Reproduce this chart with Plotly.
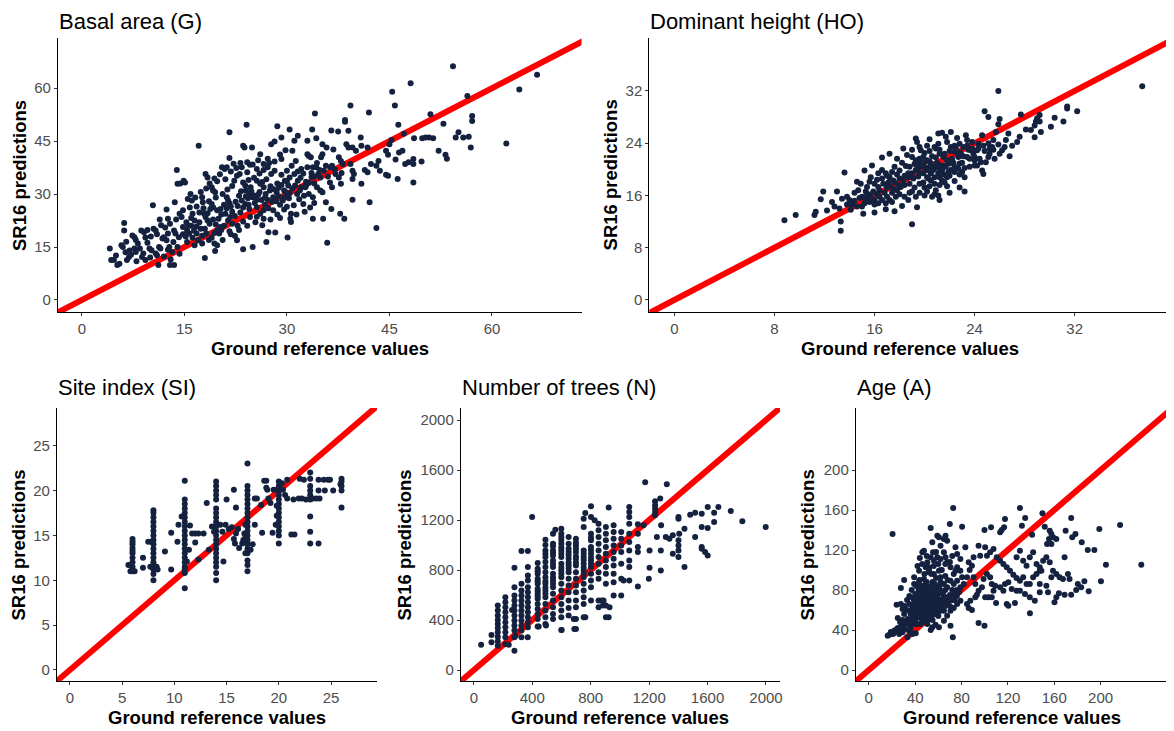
import plotly.graph_objects as go

# ---------------- data (ground reference value, SR16 prediction) ----------------
basal_area_points = [
    (54.3,66.2),(66.6,63.8),(48.1,61.4),(64.0,59.6),(56.4,57.8),(45.4,59.0),(45.8,55.1),(39.3,55.1),(42.0,53.1),(34.1,52.8),
    (51.0,52.6),(57.1,52.1),(57.1,50.7),(52.9,49.9),(46.3,49.6),(38.5,51.0),(38.5,50.5),(24.1,49.6),(28.6,49.2),(21.6,47.5),
    (30.4,48.3),(33.7,48.3),(36.5,48.0),(37.5,47.7),(39.0,47.9),(47.1,47.1),(55.1,47.5),(54.7,46.0),(55.8,46.0),(56.6,46.2),
    (56.9,43.2),(62.1,44.3),(50.3,46.0),(48.6,45.8),(49.8,45.8),(50.8,46.0),(51.4,45.8),(52.2,42.3),(53.2,41.1),(53.4,40.0),
    (49.7,39.2),(48.5,39.9),(48.5,38.5),(48.5,33.3),(46.2,34.3),(44.8,41.1),(44.5,42.3),(46.4,41.8),(46.9,42.3),(45.9,39.8),
    (47.3,38.5),(47.8,39.0),(44.5,35.5),(44.8,35.2),(43.4,39.4),(43.1,38.0),(43.6,36.6),(45.0,44.1),(45.3,45.3),(40.9,43.7),
    (41.8,43.2),(42.3,38.5),(41.4,36.8),(41.8,36.2),(40.9,32.9),(42.1,27.7),(43.1,20.4),(39.6,28.4),(38.4,23.0),(35.9,16.2),
    (37.8,24.4),(36.5,25.8),(35.3,23.0),(33.8,23.0),(35.7,27.7),(32.4,27.2),(30.5,23.0),(30.6,22.1),(30.6,24.4),(30.1,17.7),
    (28.3,19.1),(27.0,16.4),(27.3,19.2),(23.6,14.4),(25.0,15.0),(22.4,18.1),(22.7,16.9),(19.4,16.0),(19.8,15.5),(19.5,13.9),
    (18.0,11.9),(14.3,13.1),(14.0,15.0),
    (4.1,14.6),(4.3,11.3),(4.7,11.3),(5.2,9.9),(5.5,10.3),(5.8,15.5),(6.0,15.0),(6.2,21.8),(6.2,19.7),(6.6,11.3),
    (6.9,12.2),(7.7,14.6),(7.9,13.6),(7.4,18.3),(7.7,17.8),(8.5,14.6),(8.8,12.2),(9.3,11.3),(8.7,19.7),(9.1,19.2),
    (9.3,17.7),(9.9,14.6),(10.2,14.1),(10.4,26.8),(10.5,20.2),(10.8,19.7),(11.0,12.7),(11.2,9.9),(11.3,15.0),(11.5,14.6),
    (11.8,17.4),(12.4,16.9),(12.6,18.8),(12.8,15.0),(13.2,13.6),(12.9,9.9),(13.5,9.9),(12.6,23.0),(12.9,21.6),(13.5,19.7),
    (13.7,18.8),(13.6,27.7),(13.9,36.8),(14.0,32.9),(14.4,33.0),(14.9,33.8),(15.1,33.3),(14.3,24.4),(14.6,23.5),(14.8,25.4),
    (14.8,20.7),(15.4,19.7),(15.7,18.8),(15.5,28.6),(15.9,30.0),(16.1,28.2),(16.2,24.4),(16.5,22.5),(16.8,18.8),(17.0,16.9),
    (16.5,15.5),(17.1,43.7),(17.6,29.1),(17.7,27.7),(18.1,35.7),(18.4,34.7),(17.9,24.4),(18.1,23.5),(18.4,22.5),(18.7,21.6),
    (19.0,31.9),(19.2,31.0),(19.5,30.5),(19.0,27.2),(19.2,26.3),(19.8,25.4),(19.8,19.7),(20.1,18.8),(20.3,20.7),(20.5,37.6),
    (20.9,37.1),(21.2,37.6),(20.6,30.0),(21.2,29.1),(21.4,28.2),(21.0,24.4),(21.4,22.5),(21.7,23.5),(22.0,21.6),(22.3,33.8),
    (22.7,35.2),(23.1,35.7),(23.4,37.6),(23.6,33.3),(23.9,32.4),(23.6,43.7),(23.8,43.2),(24.9,43.2),(24.2,39.0),(24.6,38.3),
    (24.0,31.0),(24.5,30.0),(24.7,31.9),(25.0,29.1),(23.4,28.2),(23.9,27.2),(24.5,25.8),(25.6,37.1),(26.1,41.3),(25.6,33.8),
    (26.1,32.9),(26.6,31.9),(25.6,26.3),(26.1,24.4),(26.6,25.4),(27.2,37.6),(27.7,35.7),(28.2,36.6),(26.9,30.0),(27.5,31.0),
    (28.0,29.1),(27.7,44.1),(28.2,44.9),(29.2,46.0),(29.2,39.9),(29.7,33.8),(30.2,32.4),(30.4,34.7),(29.4,28.2),(29.7,29.1),
    (30.7,38.0),(31.3,39.4),(30.8,42.3),(31.1,45.1),(31.6,46.5),(31.1,35.7),(31.6,33.8),(32.1,37.1),(31.9,31.0),(32.1,31.9),
    (33.0,41.3),(33.2,40.8),(33.5,40.4),(33.0,37.6),(33.8,37.6),(34.3,37.6),(32.7,31.9),(33.2,30.0),(33.8,29.1),(33.0,45.1),
    (34.3,45.8),(35.2,44.1),(35.2,41.3),(35.0,40.4),(34.6,35.7),(34.9,34.7),(35.4,36.6),(34.4,31.9),(34.9,31.0),(35.2,30.5),
    (35.7,38.0),(36.3,37.6),(36.6,38.0),(37.1,35.7),(37.6,34.7),(37.9,32.9),(36.3,33.3),(36.6,31.9),(37.6,40.4),(37.9,39.4),
    (38.2,38.5),(39.3,38.5),(39.6,36.6),(39.8,35.7),(39.6,43.2),(40.1,42.3),(38.7,44.1),(39.0,43.2),(40.8,46.0),(39.6,34.3),
    (21.8,26.5),(22.5,27.8),(23.0,29.5),(23.3,30.8),(24.3,28.8),(25.3,27.5),(25.8,29.8),(26.3,28.3),(26.8,27.0),(27.3,26.0),
    (27.8,27.8),(28.5,30.5),(28.8,31.8),(29.0,27.0),(29.8,30.6),(30.3,28.8),(20.3,25.8),(20.8,27.0),(21.3,31.3),(22.0,32.3),
    (19.6,29.0),(18.6,28.0),(17.8,26.0),(17.2,24.8),(16.8,26.5),(15.8,26.2),(15.3,22.0),(13.8,22.8),(12.2,20.5),(11.6,21.2),
    (10.1,18.0),(9.6,16.2),(8.2,16.0),(7.2,12.8),(6.4,13.5),(10.8,13.2),(12.0,12.3),(13.0,11.5),(16.0,21.0),(17.4,20.2),
    (18.2,18.8),(19.0,17.6),(20.6,17.0),(21.6,19.5),(22.8,21.0),(23.6,22.2),(24.6,23.5),(25.4,22.0),(26.4,21.2),(27.6,22.8),
    (28.6,24.2),(29.6,25.6),(31.0,26.8),(31.8,28.5),(32.8,33.5),(33.6,34.8),(34.0,33.0),(36.0,35.0),(37.0,37.0),(38.0,36.0),
    (36.8,42.6),(35.8,43.2),(26.0,35.8),(25.2,34.6),(24.4,34.0),(27.0,34.2),(28.6,33.0),(29.2,35.5),(30.0,36.6),(31.5,30.0),
    (32.5,29.5),(34.0,27.5),(27.2,40.0),(26.6,38.5),(22.2,38.6),(21.6,40.2),(19.8,33.6),(18.7,33.0),
    (15.2,18.0),(15.6,21.0),(16.0,23.2),(16.4,19.6),(16.8,20.8),(17.2,22.0),(17.6,18.2),(18.0,20.2),(18.4,24.6),(18.8,25.8),
    (19.2,22.8),(19.6,21.4),(20.0,23.0),(20.4,24.2),(20.8,21.0),(21.2,26.0),(21.6,27.4),(22.0,25.0),(22.4,23.8),(22.8,26.6),
    (23.2,24.8),(23.6,26.2),(24.0,29.4),(24.4,27.0),(24.8,30.8),(25.2,29.6),(25.6,28.4),(26.0,30.6),(26.4,33.4),(26.8,29.0),
    (27.2,28.4),(27.6,32.2),(28.0,31.4),(28.4,28.0),(28.8,29.4),(29.2,32.6),(29.6,31.0),(30.0,33.6),(30.4,30.2),(30.8,31.6),
    (31.2,32.4),(31.6,36.4),(32.0,34.6),(32.4,35.8),(32.8,32.4),(33.2,33.2),(33.6,36.0),(34.0,35.0),(34.4,38.8),(34.8,36.8),
    (16.6,29.0),(17.4,30.6),(18.2,31.6),(19.4,34.4),(20.2,35.6),(21.0,34.2),(21.8,36.4),(22.6,37.4),(23.2,38.8),(24.2,36.2),
    (25.0,38.4),(25.8,39.6),(26.6,36.8),(27.4,38.8),(28.2,39.2),(29.0,41.2),(29.8,42.4),(12.0,17.8),(12.6,14.2),(13.4,16.4),
    (14.2,17.8),(14.8,18.6),(15.4,16.4),(16.2,17.6),(17.6,16.0),(18.6,17.0),(19.4,19.0),(20.4,19.8),(21.8,18.6),(23.0,19.8),
    (24.2,21.0),(25.6,23.6),(26.6,23.0),(28.0,25.4),(29.0,23.2),(30.0,26.4),(31.4,24.2),(32.6,25.0),(33.4,26.2),(9.0,13.2),
    (10.0,12.0),(8.0,11.0),(7.0,14.0),(5.0,12.6),(6.5,16.5),(7.9,17.0),(9.6,19.8),(11.0,18.6),(11.4,22.8),(12.4,25.6),
]

dominant_height_points = [
    (37.4,32.7),(25.9,32.0),(24.8,28.9),(25.1,28.0),(26.0,27.7),(25.9,26.9),(27.7,28.4),(31.4,29.6),(31.4,29.3),(32.2,28.9),
    (30.4,27.9),(31.1,27.3),(30.1,26.5),(29.2,28.3),(29.0,27.8),(28.9,27.3),(29.2,27.3),(28.8,26.7),(28.5,26.0),(29.3,25.7),
    (28.8,24.9),(28.1,26.1),(27.6,25.0),(27.4,24.2),(26.7,25.5),(26.5,24.5),(26.4,23.4),(26.2,22.9),(25.7,25.7),(25.5,24.5),
    (25.4,23.4),(25.2,22.4),(25.1,21.9),(24.6,25.2),(24.3,23.9),(24.2,22.9),(24.0,21.9),(24.7,19.3),(24.9,21.1),(24.5,21.1),
    (24.0,21.4),(23.3,25.2),(23.4,24.5),(23.1,23.4),(22.9,22.4),(21.4,25.6),(21.7,25.0),(21.8,24.2),(22.1,23.4),(22.4,22.7),
    (22.7,21.9),(22.8,20.9),(21.1,23.9),(20.9,23.2),(21.2,22.4),(21.5,21.9),(21.8,21.4),(23.0,19.6),(22.7,20.1),(19.3,24.7),
    (19.4,24.2),(19.6,23.4),(19.7,22.9),(18.3,23.2),(19.9,21.9),(20.2,21.4),(20.5,20.9),(20.8,20.4),(19.6,20.9),(19.3,21.4),
    (19.0,21.9),(19.9,20.4),(20.2,19.9),(20.5,19.4),(20.8,18.8),(21.1,19.4),(21.4,19.9),(21.7,20.4),(22.0,20.9),(19.9,19.4),
    (20.2,18.8),(19.6,19.4),(19.3,19.9),(19.0,19.4),(18.7,18.8),(20.5,18.3),(20.8,17.8),(21.2,17.6),(21.4,18.3),(21.8,18.8),
    (22.1,19.9),(22.4,20.4),(21.1,16.0),(21.2,15.3),(20.9,16.8),(20.2,16.6),(19.0,16.6),(19.3,15.8),(18.7,15.3),(19.0,11.6),
    (18.1,17.3),(17.8,16.8),(17.7,15.8),(17.2,15.3),(16.9,14.8),(17.5,18.3),(17.2,18.8),(16.9,19.4),(16.6,19.9),(16.3,19.4),
    (15.7,18.8),(15.6,18.1),(15.4,17.3),(15.3,16.6),(14.9,17.8),(14.6,18.1),(14.7,16.8),(15.0,15.8),(15.3,15.3),(15.7,15.8),
    (16.0,15.3),(16.3,14.8),(16.6,15.3),(15.0,14.3),(15.1,13.2),(14.6,14.3),(14.0,15.3),(13.8,15.8),(14.1,13.8),(12.2,13.7),
    (12.8,14.3),(13.4,15.5),(16.9,13.9),(16.0,13.4),(13.6,19.5),(13.0,16.6),(11.9,16.6),(11.7,15.4),(11.3,13.5),(11.2,13.0),
    (9.7,13.0),(8.8,12.2),(13.3,12.0),(13.3,10.6),(23.4,21.9),(23.7,22.9),(22.8,23.9),(22.5,23.4),(21.1,25.5),(22.1,25.7),
    (20.0,22.5),(20.6,22.0),(21.0,21.0),(21.6,20.6),(22.2,21.6),(23.0,21.0),(23.6,20.4),(18.5,20.5),(18.0,19.8),(17.6,20.4),
    (18.4,17.6),(17.0,17.2),(16.4,16.8),(16.0,17.8),(16.2,16.2),(17.4,16.4),(18.8,17.8),(19.6,17.8),(20.0,17.2),(21.8,17.4),
    (22.4,18.2),(23.2,18.8),(24.2,20.6),(25.6,21.6),(26.0,22.4),(26.8,22.0),(27.0,23.6),(23.8,23.2),(22.6,24.8),(20.4,24.6),
    (20.2,23.6),(19.0,23.0),(18.6,22.2),(17.8,21.6),(17.2,22.4),(16.6,21.8),(15.8,20.6),(15.2,19.8),(14.4,16.4),(13.8,14.6),
    (13.2,14.0),(12.6,15.0),(18.2,14.4),(17.6,13.6),(19.4,14.2),(20.6,15.8),(22.0,16.4),(22.8,17.2),(24.6,19.8),(23.2,16.6),
    (20.4,21.2),(20.9,21.8),(21.3,20.6),(21.9,21.2),(20.3,20.2),(19.5,20.2),
    (15.5,16.2),(15.9,16.6),(16.3,17.3),(16.7,17.8),(17.1,18.0),(17.5,17.0),(17.9,17.6),(18.3,18.2),(18.7,19.4),(19.1,18.6),
    (19.5,18.9),(19.9,18.0),(20.3,18.6),(20.7,19.9),(21.1,20.2),(21.5,19.2),(21.9,19.6),(22.3,21.0),(22.7,22.2),(23.1,22.0),
    (23.5,23.0),(23.9,22.4),(24.3,23.2),(24.7,23.6),(25.1,24.0),(25.5,23.0),(25.9,23.8),(18.0,18.6),(18.4,19.0),(18.8,20.4),
    (19.2,20.8),(19.6,21.6),(20.0,21.1),(20.4,22.8),(20.8,23.4),(21.2,23.0),(21.6,22.4),(22.0,22.8),(22.4,23.6),(22.8,22.6),
    (16.2,18.4),(16.6,18.6),(17.0,19.0),(17.4,19.6),(17.8,19.2),(18.2,21.0),(16.8,16.4),(17.2,17.4),(17.6,18.0),(18.0,16.2),
    (18.4,15.8),(18.8,16.4),(19.2,17.2),(19.6,16.4),(20.0,16.0),(20.4,17.4),(20.8,16.2),(21.2,18.8),(21.6,18.0),(22.0,19.0),
    (22.4,19.6),(22.8,19.2),(23.2,20.2),(23.6,21.6),(24.0,20.6),(24.4,21.6),(24.8,22.8),(25.2,23.2),(23.4,23.6),(23.8,24.2),
    (14.8,15.6),(15.2,14.8),(15.6,15.0),(16.0,14.6),(14.4,15.2),(14.2,14.6),(15.4,16.0),(16.4,15.8),(17.0,15.8),(17.4,15.0),
]

site_index_points = [
    (6,11.0),(6,11.2),(6,11.5),(6,12.0),(6,12.5),(6,13.0),(6,13.3),(6,13.6),(6,14.0),(6,14.3),(6,14.6),(5.6,11.7),(5.8,11.7),
    (5.8,11.0),(6.2,11.0),(7.0,12.5),(7.0,11.4),(7.5,14.3),
    (8,10.0),(8,10.7),(8,11.2),(8,11.5),(8,12.0),(8,12.5),(8,13.0),(8,13.5),(8,14.0),(8,14.5),(8,15.0),(8,15.5),(8,16.0),
    (8,16.5),(8,17.0),(8,17.5),(8,17.8),(7.7,11.5),(8.3,11.5),(8.4,11.2),(7.8,14.3),
    (9.1,13.2),(9.7,15.3),(9.7,11.2),(10.3,14.3),(10.4,16.2),(10.7,17.1),
    (11,9.1),(11,10.8),(11,11.2),(11,11.5),(11,12.0),(11,12.5),(11,13.0),(11,13.5),(11,14.0),(11,14.5),(11,15.0),(11,15.5),
    (11,16.0),(11,16.5),(11,17.0),(11,17.5),(11,18.0),(11,18.5),(11,19.0),(11,21.1),
    (11.2,12.1),(11.4,13.4),(11.5,16.1),(11.7,15.2),(12.0,15.2),(12.3,15.2),(12.0,14.2),(12.3,12.3),(12.8,15.2),(13.1,18.6),
    (13.3,13.4),(13.6,16.0),(13.8,15.4),
    (14,10.0),(14,10.8),(14,11.5),(14,12.0),(14,12.5),(14,13.0),(14,13.5),(14,14.0),(14,14.5),(14,15.0),(14,15.5),(14,16.0),
    (14,16.5),(14,17.0),(14,17.5),(14,18.0),(14,19.0),(14,19.5),(14,20.0),(14,20.5),(14,21.0),
    (14.4,16.2),(14.6,15.4),(14.9,16.2),(14.7,12.1),(15.0,19.0),(15.7,20.1),(15.9,18.1),
    (15.2,15.7),(15.5,15.9),(15.7,14.6),(15.8,14.1),(15.9,15.2),(16.1,15.7),(16.2,13.6),(16.5,14.1),(16.6,14.5),(16.7,15.2),
    (17,11.0),(17,11.7),(17,12.2),(17,13.0),(17,13.5),(17,14.0),(17,14.5),(17,15.0),(17,15.5),(17,16.0),(17,16.5),(17,17.0),
    (17,17.5),(17,18.0),(17,18.5),(17,19.0),(17,19.5),(17,20.0),(17,20.5),(17,23.0),(16.8,13.0),(16.8,14.8),(16.8,16.2),
    (17.3,13.4),(17.5,14.0),(17.7,19.1),(17.9,19.1),(17.7,16.2),(18.4,15.3),(18.3,18.4),(18.6,21.1),(18.8,21.1),(18.8,20.3),
    (18.9,20.1),(19.0,19.1),(19.2,18.6),(19.4,15.3),(19.5,20.1),(19.8,20.1),(19.7,16.2),
    (20,14.1),(20,15.0),(20,15.5),(20,16.0),(20,16.5),(20,17.0),(20,17.5),(20,18.0),(20,18.5),(20,19.0),(20,19.5),(20,20.0),
    (20,20.5),(20,21.0),(19.8,17.2),(19.8,18.3),
    (20.3,20.8),(20.4,20.1),(20.6,19.5),(20.8,19.1),(20.8,21.2),(21.2,15.1),(21.5,15.1),(21.4,19.0),(21.9,19.1),(22.0,21.3),
    (22.4,21.2),(22.6,19.0),(22.2,19.1),
    (23,14.1),(23,15.4),(23,17.1),(23,19.0),(23,19.5),(23,20.0),(23,20.5),(23,21.3),(23,22.0),(23.3,19.1),(23.6,19.1),
    (23.9,19.1),(23.8,14.1),(23.8,21.2),(24.3,21.2),(24.7,21.2),(23.8,20.0),(24.4,20.0),(25.2,20.0),(24.9,21.2),
    (26,18.1),(26,20.0),(26,20.5),(26,21.0),(26,21.3),(25.9,20.7),
]

number_of_trees_points = [
    (50,203),(121,281),(121,222),
    (164,516),(164,476),(164,436),(164,401),(164,369),(164,337),(164,302),(164,267),(164,230),(164,195),
    (216,583),(216,543),(216,503),(216,463),(216,423),(216,382),(216,342),(216,302),(216,262),(216,209),(239,203),
    (278,818),(278,663),(278,596),(278,556),(278,516),(278,476),(278,436),(278,396),(278,356),(278,316),(278,262),(278,155),(262,481),
    (326,952),(326,690),(326,636),(326,596),(326,556),(326,516),(326,476),(326,436),(326,396),(326,356),(326,316),(326,262),
    (370,952),(370,824),(370,757),(370,717),(370,663),(370,623),(370,583),(370,543),(370,503),(370,463),(370,423),(370,382),(370,342),(399,1225),
    (437,856),(437,810),(437,770),(437,730),(437,690),(437,650),(437,610),(437,570),(437,529),(437,489),(437,449),(437,409),(437,348),
    (490,1043),(490,957),(490,904),(490,864),(490,824),(490,783),(490,743),(490,690),(490,636),(490,583),(490,529),(490,476),(490,423),(490,369),
    (542,1091),(542,1011),(542,957),(542,917),(542,877),(542,824),(542,770),(542,717),(542,663),(542,610),(542,556),(542,503),(542,449),(542,409),(558,1123),
    (599,1131),(599,1064),(599,1011),(599,957),(599,904),(599,850),(599,797),(599,743),(599,690),(599,636),(599,583),(599,529),(599,476),(599,423),(599,321),
    (649,1064),(649,1011),(649,944),(649,890),(649,837),(649,783),(649,730),(649,677),(649,623),(649,556),(649,497),(649,436),
    (699,1051),(699,997),(699,944),(699,890),(699,837),(699,783),(699,730),(699,677),(699,623),(699,556),(699,503),(699,409),(699,329),
    (752,1211),(752,1144),(752,957),(752,904),(752,850),(752,797),(752,743),(752,690),(752,636),(752,583),(752,529),(752,423),(763,1257),
    (802,1310),(802,1225),(802,1091),(802,1038),(802,984),(802,930),(802,877),(802,824),(802,770),(802,717),(802,663),(802,556),
    (854,1171),(854,1118),(854,1064),(854,1011),(854,957),(854,904),(854,850),(854,783),(854,730),(854,556),(854,503),(827,1198),(888,556),
    (904,1144),(904,1091),(904,1038),(904,984),(904,930),(904,877),(904,824),(904,770),(904,690),(904,516),(904,423),(923,1300),
    (957,1158),(957,1104),(957,1051),(957,997),(957,944),(957,890),(957,837),(957,770),(957,703),(957,596),
    (1009,1104),(1009,1051),(1009,997),(1009,944),(1009,850),(1009,730),(1009,596),(1025,717),
    (1064,1305),(1064,1265),(1064,1225),(1064,1171),(1064,1091),(1064,1024),(1064,957),(1064,877),(1064,824),(1064,717),
    (1123,1166),(1123,1091),(1123,984),(1123,944),(1123,668),
    (1162,1158),(1203,818),(1198,730),(1203,957),(1241,1350),(1241,1318),(1241,1292),(1241,1265),(1241,1238),(1253,1064),
    (1276,1372),(1282,1158),(1280,957),(1280,797),(1321,1487),(1314,1064),(1339,1051),(1362,1078),(1362,930),(1401,1225),
    (1401,1211),(1401,1038),(1401,997),(1401,957),(1401,904),(1406,1091),(1442,824),(1442,1131),(1481,1243),(1515,1259),
    (1515,1064),(1560,1251),(1560,1144),(1560,984),(1560,970),(1583,944),(1601,1136),(1601,1305),(1601,917),(1645,1185),
    (1645,1259),(1674,1305),(1759,1273),(1838,1190),(1998,1144),(1173,1503),(763,423),(875,556),(884,516),(929,503),
    (923,423),(601,321),(688,329),(684,409),(444,348),(285,275),(369,262),(494,356),
    (437,790),(437,710),(437,630),(437,590),(490,1000),(490,930),(490,710),(490,660),(490,610),(542,990),(542,940),(542,850),
    (542,740),(542,690),(599,1090),(599,1040),(599,980),(599,930),(599,820),(599,770),(649,970),(649,920),(649,860),(649,810),
    (699,1020),(699,970),(699,910),(699,860),(752,930),(752,880),(752,820),(752,770),(802,1060),(802,960),(802,900),(802,850),
]

age_points = [
    (20.5,136.0),(72.8,162.0),(130.4,162.0),(53.4,142.0),(69.9,146.0),(80.5,143.3),(216.8,145.0),(198.9,141.0),(174.6,152.0),(149.8,156.7),
    (134.9,152.0),(117.5,151.0),(105.5,142.7),(99.8,140.0),(113.3,137.7),(114.7,140.0),(116.7,142.7),(132.1,144.3),(140.9,135.3),(151.8,143.3),
    (156.1,139.3),(157.5,136.0),(159.0,132.7),(161.8,131.0),(155.5,131.0),(153.8,126.0),(157.5,126.0),(169.8,139.3),(175.5,132.7),(178.3,136.0),
    (183.7,127.7),(188.9,120.0),(194.6,120.0),(204.6,105.3),(235.1,105.3),(200.3,88.7),(189.7,78.7),(186.0,88.7),(183.2,82.7),(180.3,86.0),
    (178.9,80.0),(174.6,75.3),(168.9,75.3),(164.0,76.7),(161.8,72.7),(160.2,67.7),(154.6,77.7),(147.5,77.7),(139.0,56.7),(126.1,67.0),
    (119.0,66.0),(120.4,64.3),(109.8,67.0),(100.4,72.7),(103.3,72.7),(106.1,72.7),(91.9,72.7),(93.3,75.3),(87.6,69.3),(94.7,47.0),
    (99.8,44.3),(72.5,32.7),(86.2,62.0),(89.0,60.0),(84.7,66.0),(79.0,69.3),(76.2,66.0),(73.3,62.0),(70.5,59.3),(67.6,54.3),
    (70.5,44.3),(64.8,49.3),(60.5,42.7),(57.6,45.3),(54.8,42.7),(53.4,40.0),(40.5,36.7),(37.7,36.0),(33.4,32.7),(29.1,37.7),
    (26.2,36.0),(17.7,35.3),(22.0,39.3),(24.8,38.7),(16.3,34.3),(27.7,82.0),(30.5,90.0),(24.0,65.3),
    (27.7,66.0),(29.1,61.0),(30.5,56.0),(33.4,51.0),(34.8,46.0),(32.0,46.0),(30.5,41.0),(27.7,39.3),
    (36.2,59.3),(39.1,66.0),(41.9,72.7),(44.8,76.0),(47.6,79.3),(50.5,82.7),
    (44.8,66.0),(47.6,62.7),(50.5,69.3),(53.4,72.7),(56.2,76.0),(59.1,72.7),(50.5,59.3),(53.4,62.7),(56.2,66.0),(59.1,69.3),
    (61.9,66.0),(64.8,69.3),(67.6,72.7),(44.8,59.3),(41.9,52.7),(47.6,52.7),(53.4,52.7),(44.8,46.0),(50.5,46.0),(56.2,56.0),
    (61.9,59.3),(64.8,59.3),(39.1,46.0),(36.2,42.7),(41.9,46.0),
    (46.2,117.7),(47.6,119.3),(54.8,127.7),(55.4,117.7),(53.4,112.7),(50.5,107.7),(49.1,102.7),(51.9,102.7),(56.2,109.3),(59.1,112.7),
    (61.9,111.0),(64.8,117.7),(66.2,112.7),(67.6,107.7),(70.5,102.7),(74.8,99.3),(76.2,102.7),(73.3,96.0),(79.0,99.3),(80.5,92.7),
    (59.1,134.3),(60.5,132.7),(61.9,124.3),(64.8,131.0),(66.2,134.3),(67.6,129.3),(74.8,122.7),(76.2,116.0),(79.0,111.0),(83.3,122.7),
    (43.4,99.3),(39.1,92.7),(39.1,86.0),(43.4,89.3),(47.6,91.0),(51.9,97.7),(56.2,96.0),(60.5,99.3),(61.9,92.7),(64.8,86.0),
    (67.6,82.7),(70.5,89.3),(73.3,86.0),(76.2,89.3),(79.0,82.7),(81.9,86.0),(84.7,92.7),(87.0,100.0),(86.2,107.7),(89.0,104.3),
    (90.4,112.7),(94.7,124.3),(96.1,114.3),
    (100.4,122.7),(101.9,114.3),(104.7,117.7),(107.6,121.0),(110.4,112.7),(113.3,109.3),(116.1,106.0),(119.0,102.7),(121.8,99.3),(124.7,95.3),
    (127.5,92.0),(130.4,89.3),(133.2,92.7),(136.1,86.0),(138.9,86.0),(141.8,92.7),(144.7,96.0),(147.5,99.3),(127.5,112.7),(130.4,119.3),
    (133.2,109.3),(136.1,104.3),(138.9,112.7),(141.8,117.7),(144.7,106.0),(147.5,102.7),(150.4,109.3),(153.2,112.7),(156.1,107.7),(158.9,99.3),
    (161.8,96.0),(164.6,92.7),(167.5,91.0),(168.9,112.7),(171.8,96.0),(173.2,91.0),
    (101.9,96.0),(104.7,92.7),(106.1,86.0),(107.6,79.3),(109.0,84.3),(113.3,82.7),(116.1,79.3),(117.5,86.0),(120.4,87.7),(123.3,81.0),
    (127.5,79.3),(130.4,79.3),(134.7,76.0),(138.9,72.7),(143.2,69.3),(147.5,86.0),(148.9,99.3),(153.2,84.3),(157.5,92.7),
    (90.4,92.7),(91.9,86.0),(94.7,79.3),(97.6,82.7),(99.0,91.0),
    (44.0,70.0),(46.0,74.0),(48.0,68.0),(50.0,64.0),(52.0,67.0),(54.0,70.0),(42.0,62.0),(40.0,58.0),(38.0,54.0),(36.0,50.0),
    (46.0,56.0),(48.0,50.0),(52.0,56.0),(55.0,60.0),(58.0,62.0),(60.0,64.0),(62.0,70.0),(57.0,80.0),(54.0,84.0),(50.0,88.0),
    (46.0,84.0),(43.0,80.0),(40.0,76.0),(38.0,72.0),(35.0,66.0),(33.0,60.0),(31.0,48.0),(28.0,44.0),(25.0,42.0),(20.0,37.0),
    (60.0,54.0),(64.0,76.0),(66.0,80.0),(68.0,90.0),(62.0,88.0),(58.0,92.0),(44.0,90.0),(48.0,96.0),(42.0,104.0),(52.0,100.0),
    (56.0,104.0),(63.0,100.0),(66.0,106.0),(70.0,108.0),(72.0,114.0),(74.0,70.0),(76.0,74.0),(78.0,78.0),(72.0,80.0),(70.0,75.0),
    (36.0,56.0),(37.5,62.0),(39.0,70.0),(40.5,64.0),(42.0,68.0),(43.5,74.0),(45.0,62.0),(46.5,70.0),(48.0,74.0),(49.5,60.0),
    (51.0,72.0),(52.5,76.0),(54.0,64.0),(55.5,68.0),(57.0,72.0),(58.5,66.0),(60.0,76.0),(61.5,80.0),(63.0,62.0),(64.5,72.0),
    (38.5,48.0),(40.0,50.0),(41.5,56.0),(43.0,58.0),(44.5,52.0),(46.0,48.0),(47.5,56.0),(49.0,54.0),(50.5,50.0),(52.0,52.0),
    (53.5,58.0),(55.0,50.0),(56.5,60.0),(58.0,56.0),(59.5,58.0),(61.0,62.0),(45.0,80.0),(47.0,84.0),(49.0,86.0),(51.0,78.0),
    (53.0,80.0),(55.0,88.0),(57.0,86.0),(59.0,82.0),(61.0,84.0),(63.0,78.0),(41.0,84.0),(43.0,86.0),(37.0,80.0),(35.0,74.0),
    (33.0,70.0),(31.0,64.0),(29.0,50.0),(27.0,48.0),(25.0,52.0),(23.0,40.0),(19.0,38.0),(21.0,36.0),(34.0,40.0),(36.0,38.0),
    (66.0,64.0),(68.0,68.0),(70.0,64.0),(72.0,70.0),(74.0,76.0),(76.0,80.0),(66.0,94.0),(60.0,106.0),(54.0,96.0),(46.0,106.0),
    (50.0,114.0),(58.0,118.0),(62.0,100.0),(44.0,112.0),
]

# panel titles and tick labels
panel_titles = ["Basal area (G)", "Dominant height (HO)", "Site index (SI)", "Number of trees (N)", "Age (A)"]
ticks_ba = [0, 15, 30, 45, 60]
ticks_ho = [0, 8, 16, 24, 32]
ticks_si = [0, 5, 10, 15, 20, 25]
ticks_n = [0, 400, 800, 1200, 1600, 2000]
ticks_age = [0, 40, 80, 120, 160, 200]

# axis ranges (x range, y range)
range_ba = ([-3.5, 73.1], [-3.4, 74.2])
range_ho = ([-2.0, 39.7], [-1.84, 40.1])
range_si = ([-1.24, 29.4], [-1.23, 29.2])
range_n = ([-89, 2096], [-88, 2096])
range_age = ([-11.2, 259], [-11, 262])

# ---------------- layout geometry (pixels in the 1174x731 window) ----------------
PAGE_MARGIN = 8          # default body margin of the html page
W, H = 1174 - PAGE_MARGIN, 731 - PAGE_MARGIN
boxes = [(58, 583, 38, 312), (651, 1174, 38, 312), (57, 378, 408, 681), (462, 782, 408, 681), (858, 1172, 408, 681)]
ylab_x = [19, 612, 19, 406, 810]
title_top = [6, 6, 374, 374, 374]
xlab_y = [348, 348, 717, 717, 717]


def px(x):
    return (x - PAGE_MARGIN) / W


def py(y):
    return min(1.0, 1 - (y - PAGE_MARGIN) / H)


panels = [
    (basal_area_points, ticks_ba, range_ba),
    (dominant_height_points, ticks_ho, range_ho),
    (site_index_points, ticks_si, range_si),
    (number_of_trees_points, ticks_n, range_n),
    (age_points, ticks_age, range_age),
]

FONT = "Liberation Sans, Arial, sans-serif"
POINT_COLOR = "#14223F"

fig = go.Figure()
annotations = []
for i, (pts, ticks, (xr, yr)) in enumerate(panels):
    k = "" if i == 0 else str(i + 1)
    xa, ya = "x" + k, "y" + k
    lo = min(xr[0], yr[0])
    hi = max(xr[1], yr[1])
    fig.add_trace(go.Scatter(x=[lo, hi], y=[lo, hi], mode="lines",
                             line=dict(color="#FF0000", width=6),
                             xaxis=xa, yaxis=ya, showlegend=False, hoverinfo="skip"))
    xs = [p[0] for p in pts]
    ys = [p[1] for p in pts]
    fig.add_trace(go.Scatter(x=xs, y=ys, mode="markers",
                             marker=dict(color=POINT_COLOR, size=6, line=dict(width=0)),
                             xaxis=xa, yaxis=ya, showlegend=False))
    l, r, t, b = boxes[i]
    axis_common = dict(showgrid=False, zeroline=False, showline=True, linecolor="#000000", linewidth=1.1,
                       ticks="outside", ticklen=3, tickcolor="#333333", tickwidth=1,
                       tickfont=dict(family=FONT, size=15, color="#4D4D4D"), mirror=False, fixedrange=True)
    fig.update_layout(**{
        "xaxis" + k: dict(domain=[px(l), px(r)], range=xr, tickvals=ticks, anchor=ya, **axis_common),
        "yaxis" + k: dict(domain=[py(b), py(t)], range=yr, tickvals=ticks, anchor=xa, **axis_common),
    })
    annotations.append(dict(text=panel_titles[i], x=px(l), y=py(max(title_top[i], PAGE_MARGIN)), xref="paper", yref="paper",
                            xanchor="left", yanchor="top", showarrow=False, borderpad=0,
                            font=dict(family=FONT, size=22, color="#000000")))
    annotations.append(dict(text="<b>Ground reference values</b>", x=px((l + r) / 2), y=py(xlab_y[i]),
                            xref="paper", yref="paper", xanchor="center", yanchor="middle", showarrow=False,
                            font=dict(family=FONT, size=18.5, color="#000000")))
    annotations.append(dict(text="<b>SR16 predictions</b>", x=px(ylab_x[i]), y=py((t + b) / 2),
                            xref="paper", yref="paper", xanchor="center", yanchor="middle", showarrow=False,
                            textangle=-90, font=dict(family=FONT, size=18.5, color="#000000")))

fig.update_layout(width=W, height=H, margin=dict(l=0, r=0, t=0, b=0),
                  paper_bgcolor="white", plot_bgcolor="white", annotations=annotations,
                  showlegend=False)

fig.write_html("out.html")
